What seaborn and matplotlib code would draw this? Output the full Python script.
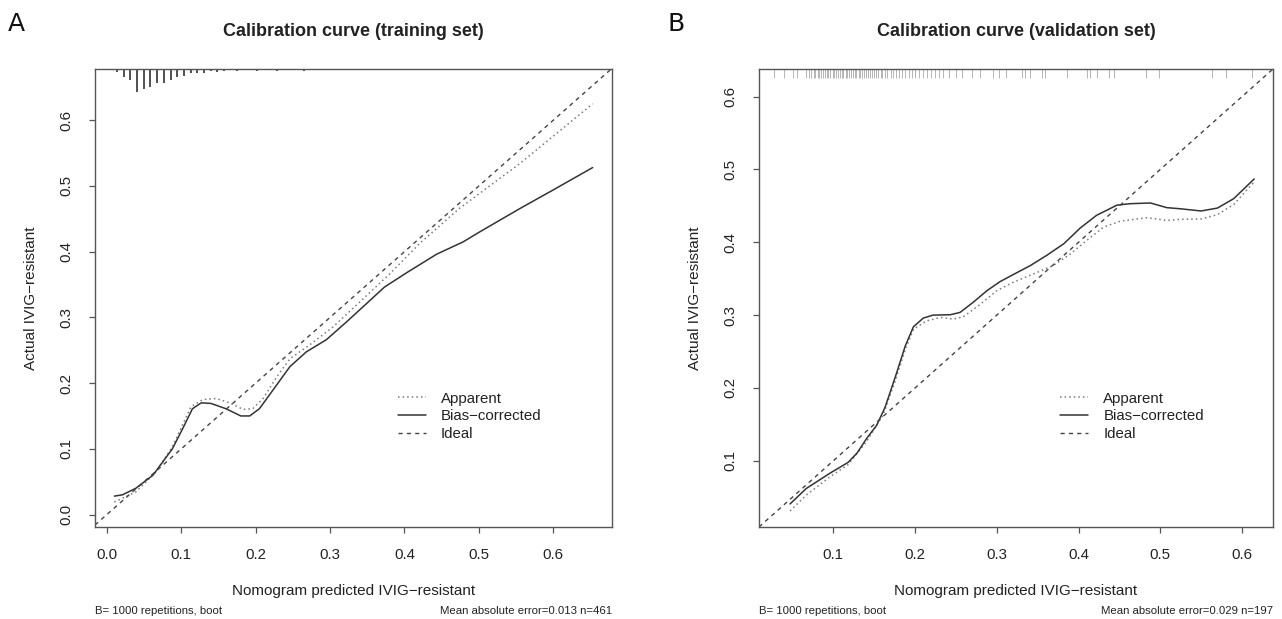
import numpy as np
import matplotlib
matplotlib.use("Agg")
import matplotlib.pyplot as plt
import pandas as pd
import seaborn as sns

sns.set_theme(style="white")
plt.rcParams['font.family'] = ['Liberation Sans', 'DejaVu Sans']

# Training set curves
train_bias_x = [0.010, 0.021, 0.039, 0.062, 0.088, 0.102, 0.115, 0.127, 0.140, 0.160, 0.180, 0.192, 0.205,
                0.223, 0.246, 0.268, 0.295, 0.322, 0.349, 0.373, 0.403, 0.443, 0.479, 0.501, 0.555, 0.600, 0.653]
train_bias_y = [0.028, 0.030, 0.040, 0.060, 0.100, 0.131, 0.161, 0.170, 0.169, 0.161, 0.150, 0.150, 0.161,
                0.189, 0.225, 0.2475, 0.266, 0.293, 0.321, 0.346, 0.368, 0.396, 0.415, 0.430, 0.4655, 0.494, 0.528]
train_app_x = [0.010, 0.039, 0.066, 0.088, 0.113, 0.129, 0.147, 0.165, 0.183, 0.196, 0.210, 0.228, 0.246,
               0.272, 0.304, 0.340, 0.380, 0.420, 0.474, 0.555, 0.653]
train_app_y = [0.019, 0.0345, 0.065, 0.103, 0.164, 0.175, 0.1765, 0.170, 0.160, 0.161, 0.1765, 0.209, 0.237,
               0.2576, 0.2855, 0.3235, 0.366, 0.412, 0.466, 0.534, 0.625]
# spike histogram along the top (bin centre, count)
train_rug_x = [0.0135, 0.0225, 0.0315, 0.0405, 0.0495, 0.0585, 0.0675, 0.0765, 0.0855, 0.0945, 0.1035,
               0.1125, 0.1215, 0.1305, 0.1395, 0.1485, 0.1575, 0.166, 0.175, 0.184, 0.193, 0.202, 0.211,
               0.220, 0.229, 0.238, 0.247, 0.256, 0.265, 0.274, 0.283, 0.292, 0.301, 0.311, 0.333, 0.338,
               0.372, 0.383, 0.404, 0.433, 0.454, 0.487, 0.520, 0.560, 0.610, 0.650]
train_rug_n = [3, 10, 13, 27, 23, 21, 16, 17, 13, 10, 8, 5, 5, 5, 2, 3, 2, 1, 2, 1, 1, 2, 1,
               1, 2, 1, 1, 1, 2, 1, 1, 1, 1, 1, 1, 1,
               1, 1, 1, 1, 1, 1, 1, 1, 1, 1]

# Validation set curves
valid_bias_x = [0.047, 0.067, 0.096, 0.118, 0.129, 0.141, 0.153, 0.163, 0.1755, 0.188, 0.198, 0.210, 0.222,
                0.243, 0.255, 0.271, 0.288, 0.304, 0.320, 0.341, 0.361, 0.382, 0.402, 0.422, 0.447, 0.463,
                0.488, 0.508, 0.525, 0.550, 0.570, 0.590, 0.615]
valid_bias_y = [0.0407, 0.062, 0.083, 0.0977, 0.1106, 0.131, 0.1487, 0.1726, 0.214, 0.2577, 0.284, 0.2959, 0.300,
                0.3005, 0.3037, 0.3175, 0.3336, 0.346, 0.3556, 0.368, 0.382, 0.398, 0.4195, 0.437, 0.451, 0.453,
                0.454, 0.4476, 0.446, 0.443, 0.447, 0.460, 0.487]
valid_app_x = [0.047, 0.067, 0.096, 0.118, 0.141, 0.161, 0.1755, 0.188, 0.198, 0.214, 0.231, 0.247, 0.259,
               0.280, 0.300, 0.320, 0.345, 0.369, 0.390, 0.410, 0.431, 0.451, 0.484, 0.508, 0.525, 0.550,
               0.570, 0.590, 0.615]
valid_app_y = [0.031, 0.053, 0.078, 0.0945, 0.127, 0.1635, 0.209, 0.253, 0.2807, 0.292, 0.2968, 0.2945, 0.2977,
               0.315, 0.3336, 0.345, 0.3566, 0.368, 0.384, 0.4025, 0.421, 0.429, 0.4338, 0.430, 0.4315, 0.432,
               0.438, 0.452, 0.483]
valid_rug_x = [0.027, 0.040, 0.050, 0.056, 0.066, 0.070, 0.073, 0.076, 0.078, 0.081, 0.083, 0.085, 0.087,
               0.090, 0.092, 0.094, 0.096, 0.099, 0.101, 0.103, 0.106, 0.108, 0.110, 0.112, 0.115, 0.117,
               0.119, 0.121, 0.124, 0.126, 0.128, 0.131, 0.133, 0.135, 0.138, 0.140, 0.142, 0.145, 0.147,
               0.150, 0.152, 0.155, 0.158, 0.160, 0.163, 0.166, 0.170, 0.173, 0.177, 0.180, 0.184, 0.188,
               0.192, 0.196, 0.200, 0.205, 0.210, 0.214, 0.219, 0.224, 0.229, 0.234, 0.242, 0.250, 0.258,
               0.270, 0.280, 0.295, 0.303, 0.311, 0.331, 0.335, 0.341, 0.355, 0.359, 0.386, 0.410, 0.414,
               0.423, 0.437, 0.443, 0.482, 0.498, 0.563, 0.580, 0.612]

panels = [
    dict(pos=[95/1282, 1-527/619, 517/1282, 458/619], letter="A", letter_x=8/1282,
         title="Calibration curve (training set)", xlim=(-0.016, 0.679), ylim=(-0.019, 0.678),
         ticks=[0.0, 0.1, 0.2, 0.3, 0.4, 0.5, 0.6], bx=train_bias_x, by=train_bias_y,
         ax_=train_app_x, ay=train_app_y, err="Mean absolute error=0.013 n=461", w=517),
    dict(pos=[759/1282, 1-527/619, 514/1282, 458/619], letter="B", letter_x=668/1282,
         title="Calibration curve (validation set)", xlim=(0.009, 0.638), ylim=(0.009, 0.638),
         ticks=[0.1, 0.2, 0.3, 0.4, 0.5, 0.6], bx=valid_bias_x, by=valid_bias_y,
         ax_=valid_app_x, ay=valid_app_y, err="Mean absolute error=0.029 n=197", w=514),
]

fig = plt.figure(figsize=(12.82, 6.19), dpi=100)
fig.patch.set_facecolor("white")

for i, p in enumerate(panels):
    ax = fig.add_axes(p["pos"])
    ax.set_xlim(p["xlim"])
    ax.set_ylim(p["ylim"])

    app = pd.DataFrame({"x": p["ax_"], "y": p["ay"]})
    bias = pd.DataFrame({"x": p["bx"], "y": p["by"]})
    sns.lineplot(data=app, x="x", y="y", ax=ax, color="#7a7a7a", lw=1.1, ls=(0, (1, 2)),
                 sort=False, estimator=None, label="Apparent")
    sns.lineplot(data=bias, x="x", y="y", ax=ax, color="#333333", lw=1.1, ls="-",
                 sort=False, estimator=None, label="Bias\u2212corrected")
    ax.axline((0, 0), slope=1, color="#444444", lw=1.0, ls=(0, (3, 3)), label="Ideal")

    # rug / spike histogram along the top
    yr = p["ylim"][1] - p["ylim"][0]
    top = p["ylim"][1]
    if i == 0:
        n = np.array(train_rug_n, dtype=float)
        ax.vlines(train_rug_x, top - n / n.max() * 0.05 * yr, top, color="#333333", lw=1.2)
    else:
        ax.vlines(valid_rug_x, top - 0.02 * yr, top, color="#aaaaaa", lw=0.6)

    ax.set_xticks(p["ticks"])
    ax.set_yticks(p["ticks"])
    ax.set_xticklabels([f"{t:.1f}" for t in p["ticks"]])
    ax.set_yticklabels([f"{t:.1f}" for t in p["ticks"]], rotation=90, va="center")
    ax.tick_params(direction="out", length=4.3, width=0.9, color="#555555", pad=11,
                   labelsize=10.8, labelcolor="#222222", bottom=True, left=True)
    for s in ax.spines.values():
        s.set_visible(True)
        s.set_color("#555555")
        s.set_linewidth(1.0)

    ax.set_xlabel("Nomogram predicted IVIG\u2212resistant", fontsize=11, color="#222222")
    ax.set_ylabel("Actual IVIG\u2212resistant", fontsize=11, color="#222222")
    ax.xaxis.set_label_coords(0.5, -64 / 458)
    ax.xaxis.label.set_va("center")
    ax.yaxis.set_label_coords(-64 / p["w"], 0.5)
    ax.yaxis.label.set_va("center")

    ax.text(0.5, 1 + 37 / 458, p["title"], transform=ax.transAxes, ha="center", va="center",
            fontsize=13, fontweight="bold", color="#222222")
    ax.text(0, -84 / 458, "B= 1000 repetitions, boot", transform=ax.transAxes, ha="left",
            va="center", fontsize=8.2, color="#222222")
    ax.text(1, -84 / 458, p["err"], transform=ax.transAxes, ha="right", va="center",
            fontsize=8.2, color="#222222")

    ax.legend(loc="upper left", bbox_to_anchor=(0.5706, 0.3122), frameon=False, borderpad=0,
              handlelength=1.9, handletextpad=1.0, labelspacing=0.25, fontsize=10.8,
              labelcolor="#222222")

    fig.text(p["letter_x"], 1 - 24 / 619, p["letter"], ha="left", va="center", fontsize=18,
             color="#111111", family=["DejaVu Sans"])

fig.savefig("out.png", dpi=100)
